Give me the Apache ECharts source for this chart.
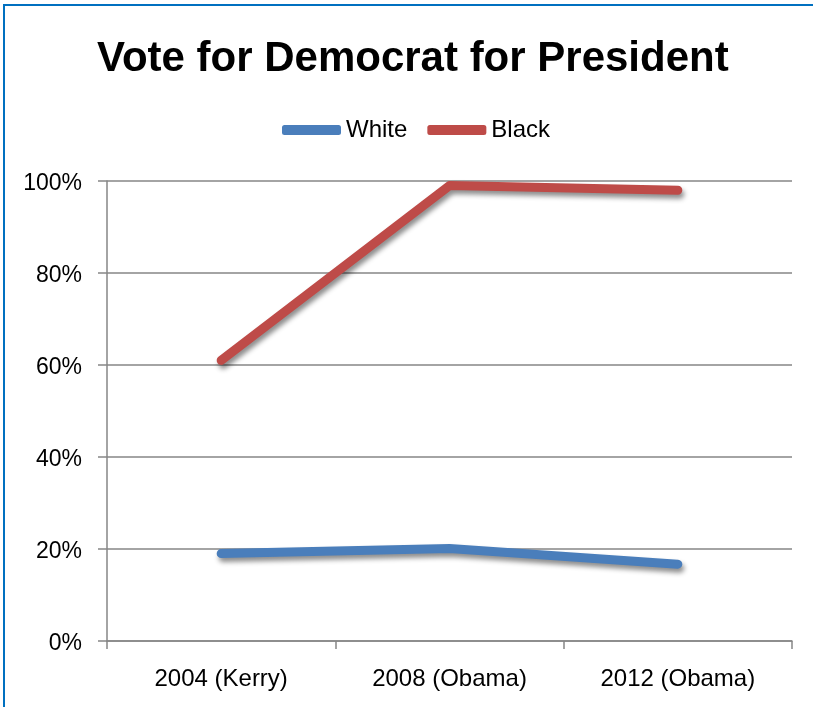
<!DOCTYPE html>
<html>
<head>
<meta charset="utf-8">
<script src="https://cdn.jsdelivr.net/npm/echarts@6/dist/echarts.min.js"></script>
<style>
  html, body { margin: 0; padding: 0; background: #fff; }
  #frame { position: absolute; left: 3px; top: 4px; width: 830px; height: 720px;
           border-top: 2px solid #0070C0; border-left: 2px solid #0070C0; }
  #chart { position: absolute; left: 0; top: 0; width: 813px; height: 707px; }
</style>
</head>
<body>
<div id="frame"></div>
<div id="chart"></div>
<script>
const categories = ['2004 (Kerry)', '2008 (Obama)', '2012 (Obama)'];
const whiteVote = [19, 20.1, 16.7];
const blackVote = [61, 99, 98];
const yTicks = [0, 20, 40, 60, 80, 100];

const FONT = '"Liberation Sans", Arial, sans-serif';
const chart = echarts.init(document.getElementById('chart'), null, { renderer: 'canvas' });

const shadow = { shadowColor: 'rgba(0,0,0,0.45)', shadowBlur: 5, shadowOffsetX: 2, shadowOffsetY: 4 };

chart.setOption({
  backgroundColor: 'transparent',
  animation: false,
  title: {
    text: 'Vote for Democrat for President',
    left: 92,
    top: 33,
    textStyle: { fontFamily: FONT, fontWeight: 'bold', fontSize: 42, color: '#000' }
  },
  legend: {
    data: ['White', 'Black'],
    left: 277,
    top: 113,
    itemWidth: 59,
    itemHeight: 10,
    itemGap: 20,
    icon: 'roundRect',
    textStyle: { fontFamily: FONT, fontSize: 24, color: '#000' }
  },
  grid: { left: 107, right: 21, top: 181, bottom: 66, containLabel: false },
  xAxis: {
    type: 'category',
    data: categories,
    boundaryGap: true,
    axisLine: { show: true, lineStyle: { color: '#868686', width: 1.5 } },
    axisTick: { show: true, length: 8, lineStyle: { color: '#868686', width: 1.5 } },
    axisLabel: { fontFamily: FONT, fontSize: 24, color: '#000', margin: 26 }
  },
  yAxis: {
    type: 'value',
    min: yTicks[0],
    max: yTicks[yTicks.length - 1],
    interval: 20,
    axisLine: { show: true, lineStyle: { color: '#868686', width: 1.5 } },
    axisTick: { show: true, length: 9, lineStyle: { color: '#868686', width: 1.5 } },
    splitLine: { show: true, lineStyle: { color: '#868686', width: 1.5 } },
    axisLabel: { fontFamily: FONT, fontSize: 23, color: '#000', margin: 25,
                 verticalAlign: 'top', lineHeight: 6, formatter: '{value}%' }
  },
  series: [
    {
      name: 'White', type: 'line', data: whiteVote, symbol: 'none',
      color: '#4A7EBB',
      lineStyle: Object.assign({ width: 9, color: '#4A7EBB', cap: 'round', join: 'round' }, shadow)
    },
    {
      name: 'Black', type: 'line', data: blackVote, symbol: 'none',
      color: '#BE4B48',
      lineStyle: Object.assign({ width: 9, color: '#BE4B48', cap: 'round', join: 'round' }, shadow)
    }
  ]
});
</script>
</body>
</html>
